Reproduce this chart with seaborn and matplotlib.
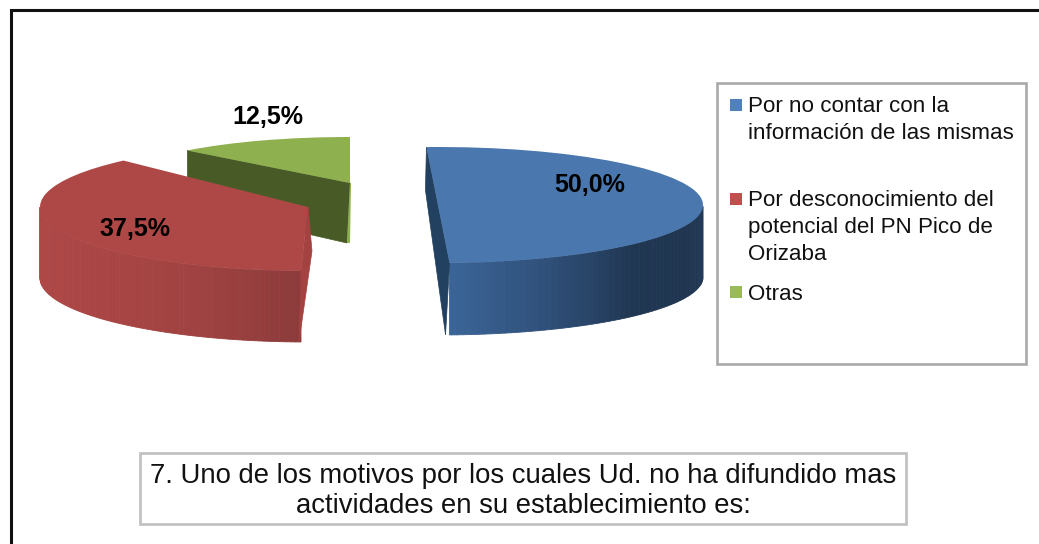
import numpy as np
import seaborn as sns
import matplotlib.pyplot as plt

from matplotlib.patches import Rectangle
from matplotlib.transforms import Affine2D

# data
categories = ['Por no contar con la\ninformación de las mismas',
              'Por desconocimiento del\npotencial del PN Pico de\nOrizaba',
              'Otras']
shares = [50.0, 37.5, 12.5]
share_labels = ['50,0%', '37,5%', '12,5%']
chart_title = '7. Uno de los motivos por los cuales Ud. no ha difundido mas\nactividades en su establecimiento es:'

# colours
top_colors = ['#4a78ae', '#ae4846', '#8eb04e']
legend_colors = ['#4f81bd', '#c0504d', '#9bbb59']
face_colors = ['#22405f', '#a34241', '#485b27']
wall_colors = [['#3a6496', '#2f4f78', '#203753', '#1f3550', '#223a58'],
               ['#ae4846', '#ac4746', '#a84544', '#9f4241', '#8c3b3b'],
               ['#485b27', '#485b27']]

# layout, all in image pixels
centers = [(438, 205), (308, 207), (350, 183)]
radii = [(265, 58), (268, 64), (230, 46)]
rotations = [0, -4, -2.5]
depths = [72, 71, 60]
rear_depths = [43, 44, 56]
leans = [-4, -2, -3]
label_pos = [(590, 185), (135, 229), (268, 117)]
legend_y = [96, 190, 284]
handle_y = [99, 193, 286]

sns.set_theme(style='white')
plt.rcParams['font.family'] = ['Liberation Sans', 'DejaVu Sans']

fig, ax = plt.subplots(figsize=(10.39, 5.44), dpi=100)
fig.subplots_adjust(left=0, right=1, bottom=0, top=1)

wedges, _ = ax.pie(shares, colors=top_colors, startangle=92.5, counterclock=False,
                   wedgeprops={'linewidth': 0})

ax.set_aspect('auto')
ax.set_xlim(0, 1039)
ax.set_ylim(544, 0)
ax.axis('off')


def rim_point(transform, theta):
    rad = np.deg2rad(theta)
    return transform.transform((np.cos(rad), np.sin(rad)))


# back to front: green, red, blue
for i in [2, 1, 0]:
    wedge = wedges[i]
    base_z = 10 * (3 - i)
    cx, cy = centers[i]
    a, b = radii[i]
    tf = Affine2D().rotate_deg(rotations[i]).scale(a, -b).translate(cx, cy)
    wedge.set_transform(tf + ax.transData)
    wedge.set_zorder(base_z + 3)

    depth = depths[i]
    rear = rear_depths[i]
    lean = leans[i]

    # outer wall, only where the rim faces the viewer
    thetas = np.linspace(wedge.theta1, wedge.theta2, 120)
    thetas = thetas[np.sin(np.deg2rad(thetas + rotations[i])) <= 0]
    if len(thetas) > 1:
        shades = sns.blend_palette(wall_colors[i], len(thetas))
        for j in range(len(thetas) - 1):
            p1 = rim_point(tf, thetas[j])
            p2 = rim_point(tf, thetas[j + 1])
            xs = [p1[0], p2[0], p2[0], p1[0]]
            ys = [p1[1], p2[1], p2[1] + depth, p1[1] + depth]
            ax.fill(xs, ys, color=shades[j], lw=0.6, zorder=base_z + 1)

    # cut faces
    if i == 0:
        p_rear = rim_point(tf, wedge.theta2)
        p_front = rim_point(tf, wedge.theta1)
        xs = [p_rear[0], p_front[0], p_front[0] + lean, p_rear[0] - 1]
        ys = [p_rear[1], p_front[1], p_front[1] + depth, p_rear[1] + rear]
    elif i == 1:
        p_front = rim_point(tf, wedge.theta2)
        xs = [cx, p_front[0], p_front[0] + lean, cx + 4]
        ys = [cy, p_front[1], p_front[1] + depth, cy + rear]
    else:
        p_rear = rim_point(tf, wedge.theta2)
        xs = [cx, p_rear[0], p_rear[0], cx + lean]
        ys = [cy, p_rear[1], p_rear[1] + rear, cy + depth]
        # light sliver at the right of the green piece
        ax.fill([cx, cx + 1, cx, cx + lean], [cy, cy, cy + depth, cy + depth],
                color=top_colors[i], lw=0, zorder=base_z + 2)
    ax.fill(xs, ys, color=face_colors[i], lw=0.5, zorder=base_z + 1)

    ax.text(label_pos[i][0], label_pos[i][1], share_labels[i], ha='center', va='center',
            fontsize=18, fontweight='bold', color='black', zorder=50)

# outer frame of the pasted picture
ax.plot([11, 11, 1039], [544, 9.5, 9.5], color='#111111', lw=2.2, zorder=60,
        solid_joinstyle='miter')

# legend
ax.add_patch(Rectangle((717, 83), 309, 281, fill=False, ec='#a9a9a9', lw=1.9, zorder=40))
for i, label in enumerate(categories):
    ax.add_patch(Rectangle((730, handle_y[i]), 12, 12, fc=legend_colors[i], ec='none', zorder=41))
    ax.text(748, legend_y[i], label, ha='left', va='top', fontsize=16.1, color='#111111',
            linespacing=1.36, zorder=41)

# title box
ax.add_patch(Rectangle((140, 453), 766, 71, fill=False, ec='#bfbfbf', lw=1.9, zorder=40))
ax.text(523, 491, chart_title, ha='center', va='center', fontsize=19.8, color='#111111',
        linespacing=1.22, zorder=41)

fig.savefig('out.png', dpi=100)
